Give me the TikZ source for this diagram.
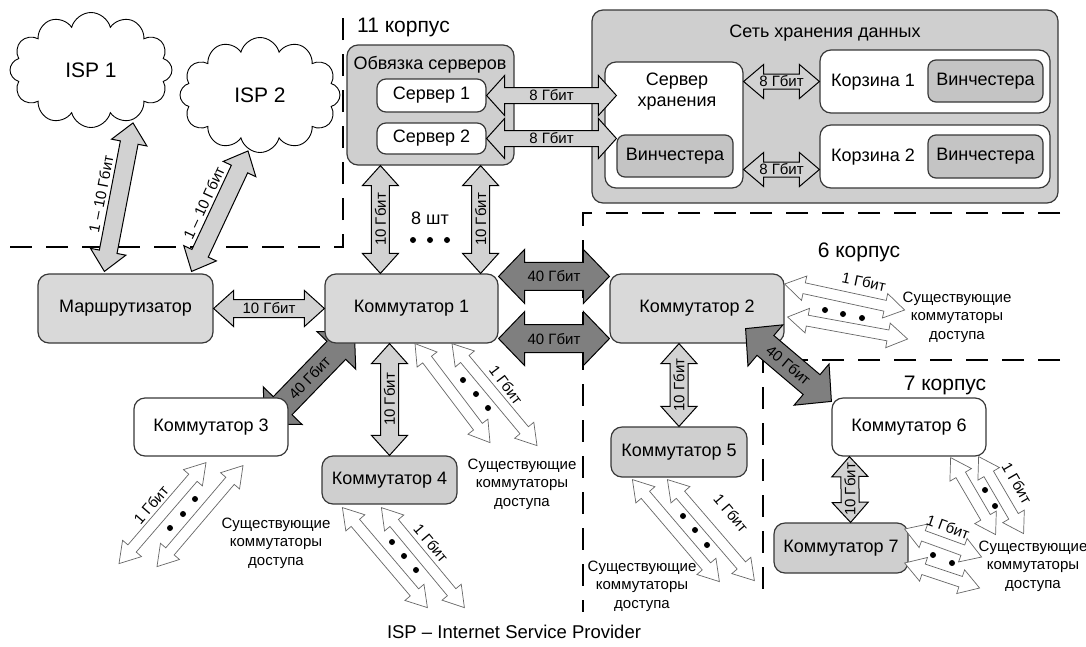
\documentclass[tikz,border=0pt]{standalone}
\usepackage{fontspec}
\setmainfont{Liberation Sans}
\usetikzlibrary{calc,shapes.symbols,backgrounds}

\definecolor{boxlight}{HTML}{D9D9D9}
\definecolor{boxmid}{HTML}{CFCFCF}
\definecolor{diskfill}{HTML}{C4C4C4}
\definecolor{arrlight}{HTML}{D2D2D2}
\definecolor{arrdark}{HTML}{7F7F7F}
\definecolor{edge}{HTML}{383838}

% Double-headed block arrow between two points:
% #1 style, #2 start, #3 end, #4 body half-width, #5 head half-width, #6 head length
\newcommand\linkarrow[6]{%
  \coordinate (la-a) at #2;
  \coordinate (la-b) at #3;
  \coordinate (la-h1) at ($(la-a)!#6!(la-b)$);
  \coordinate (la-h2) at ($(la-b)!#6!(la-a)$);
  \draw[#1] (la-a)
    -- ($(la-h1)!#5!90:(la-b)$) -- ($(la-h1)!#4!90:(la-b)$)
    -- ($(la-h2)!#4!-90:(la-a)$) -- ($(la-h2)!#5!-90:(la-a)$)
    -- (la-b)
    -- ($(la-h2)!#5!90:(la-a)$) -- ($(la-h2)!#4!90:(la-a)$)
    -- ($(la-h1)!#4!-90:(la-b)$) -- ($(la-h1)!#5!-90:(la-b)$)
    -- cycle;
}
\newcommand\thinlink[2]{\linkarrow{lightarr}{#1}{#2}{9pt}{18pt}{20pt}}
\newcommand\fatlink[2]{\linkarrow{darkarr}{#1}{#2}{14pt}{27pt}{26pt}}
\newcommand\hollowlink[2]{\linkarrow{hollowarr}{#1}{#2}{5.5pt}{12.5pt}{20pt}}
% label at the middle of the last arrow: #1 name, #2 rotation, #3 text
\newcommand\midlabel[3]{\node[arrlabel, rotate=#2] (#1) at ($(la-a)!0.5!(la-b)$) {#3};}

\begin{document}
\begin{tikzpicture}[x=1pt, y=-1pt,
  box/.style={draw=edge, line width=1.2pt, rounded corners=11pt, inner sep=0pt,
    font=\fontsize{18}{21}\selectfont},
  lightbox/.style={box, fill=boxlight},
  midbox/.style={box, fill=boxmid},
  whitebox/.style={box, fill=white},
  diskbox/.style={box, fill=diskfill, rounded corners=8pt},
  plain/.style={inner sep=0pt, font=\fontsize{18}{21}\selectfont, align=center},
  lightarr/.style={draw=black, line width=1pt, fill=arrlight},
  darkarr/.style={draw=black, line width=1pt, fill=arrdark},
  hollowarr/.style={draw=black!60, line width=0.7pt, fill=white},
  arrlabel/.style={font=\fontsize{15}{17}\selectfont, inner sep=0pt},
  note/.style={font=\fontsize{15}{18.5}\selectfont, align=center, inner sep=0pt},
  zone/.style={font=\fontsize{21}{24}\selectfont, inner sep=0pt},
  boundary/.style={line width=1.5pt, dash pattern=on 22pt off 14pt},
  cloudnode/.style={cloud, cloud puffs=12, draw=black, line width=0.9pt, fill=white,
    inner sep=0pt, font=\fontsize{21}{24}\selectfont},
  dot/.style={fill=black},
]
\useasboundingbox (0,0) rectangle (1086,646);

% building boundaries
\draw[boundary] (10,247) -- (343,247) -- (343,6);
\draw[boundary] (1060,213) -- (583,213) -- (583,612);
\draw[boundary] (1060,360) -- (763,360) -- (763,600);

% zone titles
\node[zone, anchor=west] (z11) at (357,27) {11 корпус};
\node[zone] (z6) at (859,252) {6 корпус};
\node[zone] (z7) at (945,385) {7 корпус};

% providers
\node[cloudnode, minimum width=162pt, minimum height=115pt] (isp1) at (91,70) {ISP 1};
\node[cloudnode, minimum width=160pt, minimum height=115pt] (isp2) at (260,95) {ISP 2};

% server group
\node[midbox, minimum width=167pt, minimum height=120pt] (ob) at (430.5,105) {};
\node[plain] (obt) at (430,65) {Обвязка серверов};
\node[whitebox, rounded corners=9pt, minimum width=109pt, minimum height=33pt] (s1) at (431.5,95.5) {Сервер 1};
\node[whitebox, rounded corners=9pt, minimum width=109pt, minimum height=31pt] (s2) at (431.5,138.5) {Сервер 2};

% storage network
\node[midbox, minimum width=466pt, minimum height=193pt] (san) at (825,106.5) {};
\node[plain] (sant) at (825,33) {Сеть хранения данных};
\node[whitebox, minimum width=138pt, minimum height=126pt] (ss) at (674,125) {};
\node[plain] (sst) at (677,92) {Сервер\\хранения};
\node[diskbox, minimum width=116pt, minimum height=42pt] (hd0) at (675,156) {Винчестера};
\node[whitebox, minimum width=230pt, minimum height=63pt] (kz1) at (935,81.5) {};
\node[plain] (kz1t) at (873,82) {Корзина 1};
\node[diskbox, minimum width=115pt, minimum height=42pt] (hd1) at (985.5,81) {Винчестера};
\node[whitebox, minimum width=230pt, minimum height=63pt] (kz2) at (935,156.5) {};
\node[plain] (kz2t) at (873,157) {Корзина 2};
\node[diskbox, minimum width=115pt, minimum height=43pt] (hd2) at (985.5,156.5) {Винчестера};

% router and switches
\node[lightbox, minimum width=175pt, minimum height=69pt] (mr) at (125.5,308.5) {Маршрутизатор};
\node[lightbox, minimum width=173pt, minimum height=69pt] (k1) at (411.5,308.5) {Коммутатор 1};
\node[lightbox, minimum width=174pt, minimum height=69pt] (k2) at (697,308.5) {Коммутатор 2};
\node[whitebox, minimum width=154pt, minimum height=58pt] (k3) at (211,427) {Коммутатор 3};
\node[midbox, minimum width=135pt, minimum height=48pt] (k4) at (389.5,480) {Коммутатор 4};
\node[midbox, minimum width=136pt, minimum height=50pt] (k5) at (679,452) {Коммутатор 5};
\node[whitebox, minimum width=154pt, minimum height=58pt] (k6) at (909,427) {Коммутатор 6};
\node[midbox, minimum width=134pt, minimum height=50pt] (k7) at (841,548) {Коммутатор 7};

% provider uplinks
\thinlink{($(isp1.south)+(42,-5)$)}{($(mr.north west)+(67,-2)$)}
\node[arrlabel, rotate=79] (lisp1) at (101,194) {1 – 10 Гбит};
\thinlink{($(isp2.south)+(-12,-2)$)}{($(mr.north east)+(-22,-2)$)}
\node[arrlabel, rotate=65] (lisp2) at (204,203) {1 – 10 Гбит};

% 10 Gbit links
\thinlink{(mr.east)}{(k1.west)} \midlabel{lmr}{0}{10 Гбит}
\thinlink{($(ob.south west)+(34,0)$)}{($(k1.north west)+(56,0)$)} \midlabel{lob1}{90}{10 Гбит}
\thinlink{($(ob.south east)+(-34,0)$)}{($(k1.north east)+(-18,0)$)} \midlabel{lob2}{90}{10 Гбит}
\thinlink{(k4.north |- k1.south)}{(k4.north)} \midlabel{lk4}{90}{10 Гбит}
\thinlink{(k5.north |- k2.south)}{(k5.north)} \midlabel{lk5}{90}{10 Гбит}
\thinlink{($(k6.south west)+(18,0)$)}{($(k7.north east)+(-58,0)$)} \midlabel{lk7}{90}{10 Гбит}

\node[plain] (cnt) at (430,218) {8 шт};
\fill[dot] (413,240) circle[radius=3pt] (430,240) circle[radius=3pt] (447,240) circle[radius=3pt];

% 8 Gbit storage links
\linkarrow{lightarr}{(s1.east)}{($(ss.west |- s1.east)+(12,0)$)}{8pt}{20pt}{18pt} \midlabel{ls1}{0}{8 Гбит}
\linkarrow{lightarr}{(s2.east)}{($(ss.west |- s2.east)+(12,0)$)}{8pt}{20pt}{18pt} \midlabel{ls2}{0}{8 Гбит}
\linkarrow{lightarr}{(ss.east |- kz1.west)}{(kz1.west)}{7.5pt}{17pt}{20pt} \midlabel{lkz1}{0}{8 Гбит}
\linkarrow{lightarr}{($(ss.east |- kz2.west)+(0,13)$)}{($(kz2.west)+(0,13)$)}{7.5pt}{17pt}{20pt} \midlabel{lkz2}{0}{8 Гбит}

% 40 Gbit trunks
\fatlink{($(k1.north east)+(0,3)$)}{($(k2.north west)+(0,3)$)} \midlabel{l40a}{0}{40 Гбит}
\fatlink{($(k1.south east)+(0,-5)$)}{($(k2.south west)+(0,-5)$)} \midlabel{l40b}{0}{40 Гбит}
\begin{scope}[on background layer]
  % this trunk runs under the two switch boxes
  \linkarrow{darkarr}{($(k3.north east)+(-24,27)$)}{($(k1.south west)+(30,-12)$)}{13pt}{27pt}{26pt}
\end{scope}
\midlabel{l40c}{46}{40 Гбит}
\linkarrow{darkarr}{($(k2.south east)+(-39,-15)$)}{($(k6.north west)+(0,4)$)}{13pt}{27pt}{26pt} \midlabel{l40d}{-40}{40 Гбит}

% 1 Gbit access links
\hollowlink{($(k1.south)+(3.5,0)$)}{($(k1.south)+(78.5,99)$)}
\hollowlink{($(k1.south)+(40.5,0)$)}{($(k1.south)+(125.5,102)$)}
\fill[dot] (463,380) circle[radius=3pt] (476,394) circle[radius=3pt] (488,408) circle[radius=3pt];
\node[arrlabel, rotate=-53] (lg1) at (506,385) {1 Гбит};
\node[note] (n1) at (522,484) {Существующие\\коммутаторы\\доступа};

\hollowlink{($(k3.south)+(-5,6)$)}{($(k3.south)+(-92,107)$)}
\hollowlink{($(k3.south)+(32,9)$)}{($(k3.south)+(-54,110)$)}
\fill[dot] (195,499) circle[radius=3pt] (183,514) circle[radius=3pt] (170,528) circle[radius=3pt];
\node[arrlabel, rotate=49] (lg3) at (151,505) {1 Гбит};
\node[note] (n3) at (276,543) {Существующие\\коммутаторы\\доступа};

\hollowlink{($(k4.south west)+(21,3)$)}{($(k4.south west)+(106,103)$)}
\hollowlink{($(k4.south west)+(60,3)$)}{($(k4.south west)+(143,103)$)}
\fill[dot] (392,542) circle[radius=3pt] (404,556) circle[radius=3pt] (416,570) circle[radius=3pt];
\node[arrlabel, rotate=-50] (lg4) at (431,543) {1 Гбит};

\hollowlink{($(k5.south west)+(22,2)$)}{($(k5.south west)+(109,104)$)}
\hollowlink{($(k5.south west)+(57,2)$)}{($(k5.south west)+(144,103)$)}
\fill[dot] (683,516) circle[radius=3pt] (695,530) circle[radius=3pt] (707,545) circle[radius=3pt];
\node[arrlabel, rotate=-50] (lg5) at (731,513) {1 Гбит};
\node[note] (n5) at (642,586) {Существующие\\коммутаторы\\доступа};

\hollowlink{($(k2.east)+(0,-24.5)$)}{($(k2.east)+(120,1.5)$)}
\hollowlink{($(k2.east)+(3,8.5)$)}{($(k2.east)+(123,30.5)$)}
\fill[dot] (825,310) circle[radius=3pt] (843,314) circle[radius=3pt] (862,318) circle[radius=3pt];
\node[arrlabel, rotate=-12] (lg2) at (864,282) {1 Гбит};
\node[note] (n2) at (957,317) {Существующие\\коммутаторы\\доступа};

\hollowlink{($(k6.south east)+(-36,1)$)}{($(k6.south east)+(9,78)$)}
\hollowlink{($(k6.south east)+(-8,0)$)}{($(k6.south east)+(37,77)$)}
\fill[dot] (985,490) circle[radius=3pt] (995,506) circle[radius=3pt];
\node[arrlabel, rotate=-60] (lg6) at (1017,483) {1 Гбит};

\hollowlink{($(k7.east)+(-4,-19)$)}{($(k7.east)+(73,9)$)}
\hollowlink{($(k7.east)+(-4,15)$)}{($(k7.east)+(71,40)$)}
\fill[dot] (933,555) circle[radius=3pt] (952,563) circle[radius=3pt];
\node[arrlabel, rotate=-20] (lg7) at (948,527) {1 Гбит};
\node[note] (n7) at (1033,566) {Существующие\\коммутаторы\\доступа};

% legend
\node[inner sep=0pt, font=\fontsize{18.5}{21}\selectfont] (legend) at (514,632) {ISP – Internet Service Provider};
\end{tikzpicture}
\end{document}
